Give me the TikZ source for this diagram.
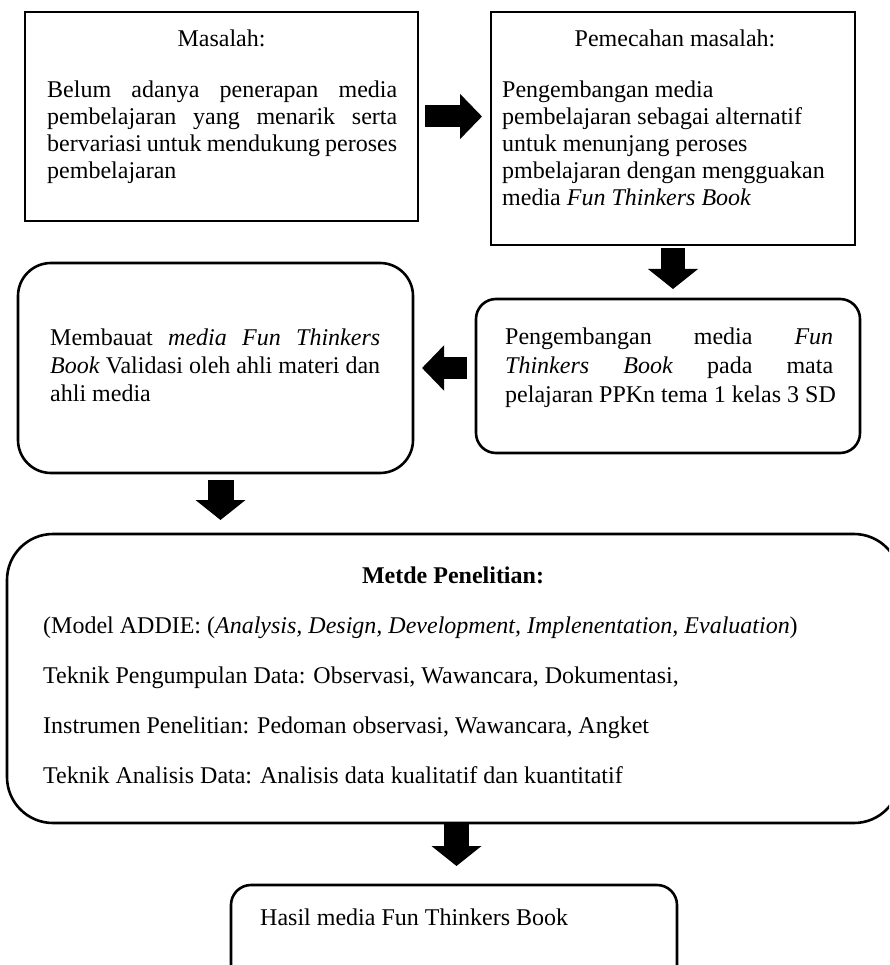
\documentclass[tikz,border=0pt]{standalone}
\usepackage{fontspec}
\setmainfont{Liberation Serif}
\usetikzlibrary{arrows.meta}
\hyphenpenalty=10000
\tolerance=10000
\hbadness=10000
\hfuzz=20pt
\tikzset{
  frame/.style={draw,line width=2.6pt,inner sep=0pt,outer sep=0pt},
  txt/.style={inner sep=0pt,font=\fontsize{24}{27}\selectfont},
  harrow/.style={line width=22pt,-{Triangle[length=22pt,width=44pt]}},
  varrow/.style={line width=24pt,-{Triangle[length=20pt,width=49pt]}},
}
\begin{document}
\begin{tikzpicture}[x=1pt,y=-1pt]
  \clip (0,0) rectangle (889,965);
  \node[frame,minimum width=393pt,minimum height=209pt] (masalah) at (221.5,116.5) {};
  \node[frame,minimum width=364pt,minimum height=233pt] (pemecahan) at (673,128.5) {};
  \node[frame,rounded corners=20pt,minimum width=384pt,minimum height=154pt] (pengembangan) at (668,376) {};
  \node[frame,rounded corners=33pt,minimum width=395pt,minimum height=210pt] (membuat) at (215.5,368) {};
  \node[frame,rounded corners=46pt,minimum width=893pt,minimum height=289pt] (metode) at (453.5,678.5) {};
  \node[frame,rounded corners=20pt,minimum width=446pt,minimum height=105pt] (hasil) at (454,937.5) {};

  \node[txt,anchor=base] (masalah-title) at (221.5,47) {Masalah:};
  \node[txt,anchor=north west,text width=350pt,align=justify] (masalah-text) at (47,80.6)
    {Belum adanya penerapan media\linebreak pembelajaran yang menarik serta\linebreak
     bervariasi untuk mendukung peroses\linebreak pembelajaran};
  \node[txt,anchor=base] (pemecahan-title) at (675,47) {Pemecahan masalah:};
  \node[txt,anchor=north west,align=left] (pemecahan-text) at (502,80.6)
    {Pengembangan media\\ pembelajaran sebagai alternatif\\ untuk menunjang peroses\\
     pmbelajaran dengan mengguakan\\ media \textit{Fun Thinkers Book}};
  \node[txt,anchor=north west,text width=328pt,align=justify,
        font=\fontsize{24}{29}\selectfont] (pengembangan-text) at (505,327.6)
    {Pengembangan media \textit{Fun}\linebreak \textit{Thinkers Book} pada mata\linebreak
     \mbox{pelajaran PPKn tema 1 kelas 3 SD}};
  \node[txt,anchor=north west,text width=330pt,align=justify,
        font=\fontsize{24}{28}\selectfont] (membuat-text) at (50,328.6)
    {Membauat \textit{media Fun Thinkers}\linebreak \textit{Book} Validasi oleh ahli materi dan\linebreak
     ahli media};
  \node[txt,anchor=base,font=\fontsize{24}{28}\selectfont\bfseries] (metode-title) at (453,583)
    {Metde Penelitian:};
  \node[txt,anchor=north west,align=left,font=\fontsize{24}{50}\selectfont] (metode-text) at (43,617)
    {(Model ADDIE: (\textit{Analysis, Design, Development, Implenentation, Evaluation})\\
     Teknik Pengumpulan Data: Observasi, Wawancara, Dokumentasi,\\
     Instrumen Penelitian: Pedoman observasi, Wawancara, Angket\\
     Teknik Analisis Data: Analisis data kualitatif dan kuantitatif};
  \node[txt,anchor=base west] (hasil-text) at (260,925)
    {Hasil media Fun Thinkers Book};

  \draw[harrow] ([xshift=7pt]masalah.east) -- ([xshift=-9pt]masalah.east -| pemecahan.west);
  \draw[varrow] ([yshift=-3pt]pemecahan.south) -- ([yshift=10pt]pemecahan.south |- pengembangan.north);
  \draw[harrow] ([xshift=-9pt]pengembangan.west |- membuat.east) -- ([xshift=9pt]membuat.east);
  \draw[varrow,line width=26pt] ([xshift=5pt,yshift=-7pt]membuat.south)
    -- ([xshift=5pt,yshift=14pt]membuat.south |- metode.north);
  \draw[varrow,line width=25pt] ([xshift=3pt]metode.south)
    -- ([xshift=3pt,yshift=19pt]metode.south |- hasil.north);
\end{tikzpicture}
\end{document}
